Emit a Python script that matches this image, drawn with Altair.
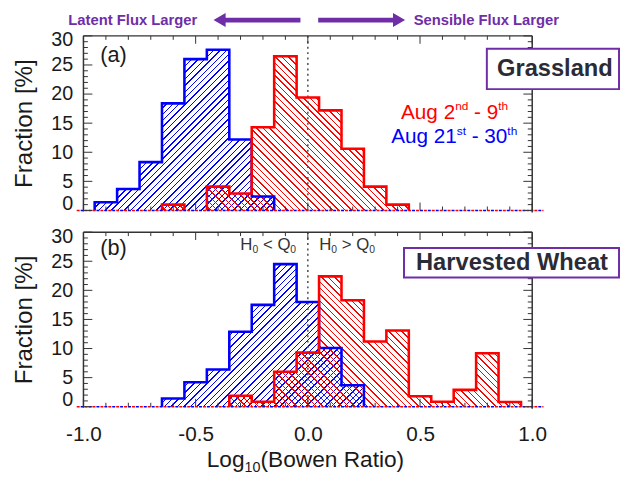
import math
import altair as alt
import pandas as pd

# ---------------- data ----------------
BIN_CENTERS = [-0.9, -0.8, -0.7, -0.6, -0.5, -0.4, -0.3, -0.2, -0.1, 0.0,
               0.1, 0.2, 0.3, 0.4, 0.5, 0.6, 0.7, 0.8, 0.9]
BIN_HALF = 0.05
# (a) Grassland
GRASS_AUG21_30 = [1.4, 3.7, 8.3, 18.4, 26.0, 27.6, 12.2, 2.4, 0, 0,
                  0, 0, 0, 0, 0, 0, 0, 0, 0]
GRASS_AUG02_09 = [0, 0, 0, 1.0, 0, 4.1, 2.9, 14.3, 26.5, 19.4,
                  17.2, 10.6, 4.1, 1.0, 0, 0, 0, 0, 0]
# (b) Harvested wheat
WHEAT_AUG21_30 = [0, 0, 0, 1.4, 4.2, 6.4, 12.9, 17.5, 24.5, 18.0,
                  10.1, 3.7, 0, 0, 0, 0, 0, 0, 0]
WHEAT_AUG02_09 = [0, 0, 0, 0, 0, 0, 1.9, 0.85, 6.0, 9.3,
                  22.4, 18.3, 11.2, 13.1, 1.8, 0.85, 2.9, 9.2, 0.8]

X_TICK_LABELS = [-1.0, -0.5, 0.0, 0.5, 1.0]
X_MINOR_TICKS = [-0.9, -0.8, -0.7, -0.6, -0.4, -0.3, -0.2, -0.1,
                 0.1, 0.2, 0.3, 0.4, 0.6, 0.7, 0.8, 0.9]
Y_TICK_LABELS = [0, 5, 10, 15, 20, 25, 30]
Y_MINOR_TICKS = [1, 2, 3, 4, 6, 7, 8, 9, 11, 12, 13, 14, 16, 17, 18, 19,
                 21, 22, 23, 24, 26, 27, 28, 29]

# ---------------- style ----------------
FONT = "Liberation Sans"
RED = "#ff0000"
BLUE = "#0000ff"
PURPLE = "#6f2da8"
INK = "#1a1a1a"
FRAME = "#333333"
PW, PH = 455, 177
XMIN, XMAX = -1.0, 1.0
YMIN, YMAX = 0.0, 30.0
XS = alt.Scale(domain=[XMIN, XMAX], nice=False, zero=False)
YS = alt.Scale(domain=[YMIN, YMAX], nice=False, zero=False)


def nonzero_span(vals):
    idx = [i for i, v in enumerate(vals) if v > 0]
    return idx[0], idx[-1]


def area_df(vals):
    s, t = nonzero_span(vals)
    rows = [{"x": BIN_CENTERS[i] - BIN_HALF, "y": vals[i]} for i in range(s, t + 1)]
    rows.append({"x": BIN_CENTERS[t] + BIN_HALF, "y": 0.0})
    return pd.DataFrame(rows)


def area_bbox_px(vals):
    s, t = nonzero_span(vals)
    w = (BIN_CENTERS[t] - BIN_CENTERS[s] + 2 * BIN_HALF) / (XMAX - XMIN) * PW
    h = max(vals) / (YMAX - YMIN) * PH
    return w, h


def outline_df(vals):
    rows, run, k, i, n = [], 0, 0, 0, len(vals)
    while i < n:
        if vals[i] > 0:
            j = i
            while j + 1 < n and vals[j + 1] > 0:
                j += 1
            rows.append({"x": BIN_CENTERS[i] - BIN_HALF, "y": 0.0, "run": run, "k": k}); k += 1
            for m in range(i, j + 1):
                rows.append({"x": BIN_CENTERS[m] - BIN_HALF, "y": vals[m], "run": run, "k": k}); k += 1
            rows.append({"x": BIN_CENTERS[j] + BIN_HALF, "y": 0.0, "run": run, "k": k}); k += 1
            run += 1
            i = j + 1
        else:
            i += 1
    return pd.DataFrame(rows)


def hatch(color, w, h, direction, spacing=4.6, lw=1.05):
    """Diagonal hatching as a linear gradient with hard stops (bbox units)."""
    L = (w + h) / math.sqrt(2)
    k = (w + h) / (w * w + h * h)
    if direction == "/":
        x1, y1, x2, y2 = 0.0, 0.0, w * k, h * k
    else:
        x1, y1, x2, y2 = 0.0, 1.0, w * k, 1.0 - h * k
    p = spacing / L
    lwt = lw / L
    clear = "rgba(255,255,255,0)"
    stops = [alt.GradientStop(color=clear, offset=0.0)]
    a = p / 2
    while a + lwt < 1.0:
        b = a + lwt
        stops += [alt.GradientStop(color=clear, offset=round(a, 5)),
                  alt.GradientStop(color=color, offset=round(a, 5)),
                  alt.GradientStop(color=color, offset=round(b, 5)),
                  alt.GradientStop(color=clear, offset=round(b, 5))]
        a += p
    stops.append(alt.GradientStop(color=clear, offset=1.0))
    return alt.LinearGradient(gradient="linear", stops=stops,
                              x1=x1, y1=y1, x2=x2, y2=y2)


def txt(s, x, y, size, color=INK, weight="normal", align="left", baseline="alphabetic"):
    return alt.Chart().mark_text(text=s, font=FONT, fontSize=size, color=color,
                                 fontWeight=weight, align=align, baseline=baseline
                                 ).encode(x=alt.value(x), y=alt.value(y))


def vrule(x, y1, y2, color=FRAME, width=1.5):
    return alt.Chart().mark_rule(color=color, strokeWidth=width).encode(
        x=alt.value(x), y=alt.value(y1), y2=alt.value(y2))


def hrule(y, x1, x2, color=FRAME, width=1.5):
    return alt.Chart().mark_rule(color=color, strokeWidth=width).encode(
        y=alt.value(y), x=alt.value(x1), x2=alt.value(x2))


def box(x1, x2, y1, y2):
    return alt.Chart().mark_rect(fill="white", stroke=PURPLE, strokeWidth=2).encode(
        x=alt.value(x1), x2=alt.value(x2), y=alt.value(y1), y2=alt.value(y2))


Y_AXIS = alt.Axis(values=Y_TICK_LABELS, title="Fraction [%]", titleFontSize=24.5,
                  titleFontWeight="normal", titlePadding=14, labelFontSize=20,
                  labelPadding=11, labelFlush=False, labelOverlap=False,
                  labelOffset={"condition": [{"test": "datum.value == 0", "value": -7},
                                             {"test": "datum.value == 30", "value": 4}],
                               "value": 0},
                  ticks=False, tickSize=0, domain=False, grid=False, format="d")
X_AXIS = alt.Axis(values=X_TICK_LABELS, labelFontSize=21, labelPadding=17,
                  labelFlush=False, labelOverlap=False, ticks=False, tickSize=0,
                  domain=False, grid=False, title=None,
                  labelExpr="datum.value < 0 ? '-' + format(-datum.value, '.1f') : format(datum.value, '.1f')")


def panel(blue, red, show_x):
    bw, bh = area_bbox_px(blue)
    rw, rh = area_bbox_px(red)
    xa = X_AXIS if show_x else None

    def X(field=None, datum=None):
        if datum is not None:
            return alt.X(datum=datum, scale=XS, axis=xa)
        return alt.X(field, type="quantitative", scale=XS, axis=xa)

    def Y(field):
        return alt.Y(field, type="quantitative", scale=YS, axis=Y_AXIS)

    blue_area = alt.Chart(area_df(blue)).mark_area(
        interpolate="step-after", fill=hatch(BLUE, bw, bh, "/"), opacity=1
    ).encode(x=X("x"), y=Y("y"))
    red_area = alt.Chart(area_df(red)).mark_area(
        interpolate="step-after", fill=hatch(RED, rw, rh, "\\"), opacity=1
    ).encode(x=X("x"), y=Y("y"))

    zero_line = alt.Chart().mark_rule(color="#555555", strokeDash=[2, 3.5], strokeWidth=1.6).encode(
        x=X(datum=0), y=alt.value(0), y2=alt.value(PH))

    def outline(vals, color):
        return alt.Chart(outline_df(vals)).mark_line(
            interpolate="step-after", color=color, strokeWidth=2.6, strokeJoin="miter"
        ).encode(x=X("x"), y=Y("y"), detail="run:N", order="k:Q")

    base_red = alt.Chart().mark_rule(color=RED, strokeDash=[3, 5], strokeWidth=1.6).encode(
        x=X(datum=-1.03), x2=alt.X2(datum=1.05), y=alt.value(PH))
    base_blue = alt.Chart().mark_rule(color=BLUE, strokeDash=[3, 5], strokeDashOffset=4,
                                      strokeWidth=1.6).encode(
        x=X(datum=-1.03), x2=alt.X2(datum=1.05), y=alt.value(PH))

    def xticks(vals, length):
        d = pd.DataFrame({"x": vals})
        top = alt.Chart(d).mark_rule(color=FRAME, strokeWidth=1).encode(
            x=X("x"), y=alt.value(0), y2=alt.value(length))
        bot = alt.Chart(d).mark_rule(color=FRAME, strokeWidth=1).encode(
            x=X("x"), y=alt.value(PH), y2=alt.value(PH - length))
        return [top, bot]

    def yticks(vals, length):
        d = pd.DataFrame({"y": vals})
        left = alt.Chart(d).mark_rule(color=FRAME, strokeWidth=1).encode(
            y=Y("y"), x=alt.value(0), x2=alt.value(length))
        right = alt.Chart(d).mark_rule(color=FRAME, strokeWidth=1).encode(
            y=Y("y"), x=alt.value(PW), x2=alt.value(PW - length))
        return [left, right]

    layers = [blue_area, red_area, zero_line,
              outline(blue, BLUE), outline(red, RED), base_red, base_blue]
    layers += xticks(X_TICK_LABELS, 8) + xticks(X_MINOR_TICKS, 4)
    layers += yticks(Y_TICK_LABELS, 9) + yticks(Y_MINOR_TICKS, 4.5)
    layers += [vrule(0, 0, PH + 1), hrule(0, 0, PW), vrule(PW, 0, PH + 2)]
    return layers


# ---------------- panel (a) ----------------
la = panel(GRASS_AUG21_30, GRASS_AUG02_09, show_x=False)
la += [
    txt("(a)", 17, 19.5, 22, baseline="middle"),
    # legend
    txt("Aug 2", 322, 84, 21, RED), txt("nd", 377, 75, 12, RED),
    txt("- 9", 396, 84, 21, RED), txt("th", 420.5, 75, 12, RED),
    txt("Aug 21", 312, 108.5, 21, BLUE), txt("st", 378.5, 100, 12, BLUE),
    txt("- 30", 393.6, 108.5, 21, BLUE), txt("th", 429.8, 100, 12, BLUE),
    # site box
    box(409, 543, 13, 54),
    txt("Grassland", 478, 34, 24, "#2b2b38", weight="bold", align="center", baseline="middle"),
    # flux arrows
    txt("Latent Flux Larger", 50, -16, 15, PURPLE, weight="bold", align="center", baseline="middle"),
    txt("Sensible Flux Larger", 408.5, -16, 15, PURPLE, weight="bold", align="center", baseline="middle"),
    hrule(-16, 140, 220, PURPLE, 5), hrule(-16, 238, 318, PURPLE, 5),
    alt.Chart().mark_point(shape="triangle-left", filled=True, size=200, color=PURPLE,
                           opacity=1).encode(x=alt.value(138), y=alt.value(-16)),
    alt.Chart().mark_point(shape="triangle-right", filled=True, size=200, color=PURPLE,
                           opacity=1).encode(x=alt.value(320), y=alt.value(-16)),
]
panel_a = alt.layer(*la).properties(width=PW, height=PH)

# ---------------- panel (b) ----------------
lb = panel(WHEAT_AUG21_30, WHEAT_AUG02_09, show_x=True)
lb += [
    txt("(b)", 17, 16.5, 22, baseline="middle"),
    txt("H", 159, 18, 17, "#333333"), txt("0", 171.3, 21.5, 10.5, "#333333"),
    txt("< Q", 182, 18, 17, "#333333"), txt("0", 209.7, 21.5, 10.5, "#333333"),
    txt("H", 239, 18, 17, "#333333"), txt("0", 251.3, 21.5, 10.5, "#333333"),
    txt("> Q", 262, 18, 17, "#333333"), txt("0", 289.7, 21.5, 10.5, "#333333"),
    box(325, 543, 16, 46),
    txt("Harvested Wheat", 434.5, 31, 24, "#2b2b38", weight="bold", align="center", baseline="middle"),
    # x-axis title with subscript
    txt("Log", 125, 238, 23), txt("10", 163.4, 243, 14.5), txt("(Bowen Ratio)", 179.5, 238, 23),
]
panel_b = alt.layer(*lb).properties(width=PW, height=PH)

chart = alt.vconcat(panel_a, panel_b, spacing=22, bounds="flush").properties(
    padding={"left": 3.5, "top": 1, "right": 0, "bottom": 0}
).configure_view(stroke=None).configure_axis(
    labelFont=FONT, titleFont=FONT, labelColor=INK, titleColor=INK, grid=False
)

chart.save("out.html", embed_options={"renderer": "svg", "actions": False})
